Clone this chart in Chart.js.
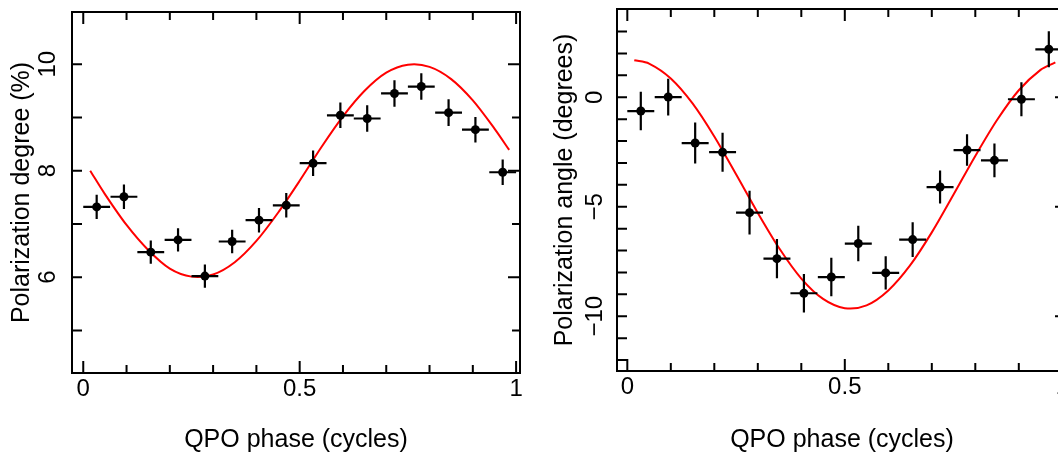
<!DOCTYPE html>
<html>
<head>
<meta charset="utf-8">
<script src="https://cdn.jsdelivr.net/npm/chart.js@4/dist/chart.umd.min.js"></script>
<style>
html, body { margin: 0; padding: 0; background: #fff; overflow: hidden; width: 1058px; height: 456px; }
canvas { position: absolute; top: 0; }
#degChart { left: 0; }
#angChart { left: 540px; }
</style>
</head>
<body>
<canvas id="degChart" width="540" height="456"></canvas>
<canvas id="angChart" width="560" height="456"></canvas>
<script>
// QPO phase bins (centres and half widths)
const phase = [0.031, 0.094, 0.156, 0.219, 0.281, 0.344, 0.406, 0.469,
               0.531, 0.594, 0.656, 0.719, 0.781, 0.844, 0.906, 0.969];
const phaseErr = [0.031, 0.031, 0.031, 0.031, 0.031, 0.031, 0.031, 0.031,
                  0.031, 0.031, 0.031, 0.031, 0.031, 0.031, 0.031, 0.031];

// left panel: polarization degree (%)
const degree = [7.32, 7.51, 6.47, 6.70, 6.02, 6.67, 7.07, 7.35,
                8.14, 9.04, 8.98, 9.45, 9.58, 9.09, 8.77, 7.97];
const degreeErr = [0.23, 0.23, 0.22, 0.22, 0.22, 0.22, 0.23, 0.23,
                   0.24, 0.24, 0.25, 0.25, 0.25, 0.25, 0.24, 0.24];

// right panel: polarization angle (degrees)
const angle = [-0.63, 0.01, -2.09, -2.51, -5.27, -7.37, -8.95, -8.21,
               -6.68, -8.02, -6.50, -4.10, -2.41, -2.88, -0.09, 2.19];
const angleErr = [0.88, 0.84, 0.94, 0.89, 1.00, 0.90, 0.88, 0.88,
                  0.81, 0.76, 0.79, 0.75, 0.72, 0.77, 0.78, 0.82];

// red model curves
const modelPhase = [0.016, 0.05, 0.1, 0.15, 0.2, 0.25, 0.3, 0.35, 0.4, 0.45, 0.5,
                    0.55, 0.6, 0.65, 0.7, 0.75, 0.8, 0.85, 0.9, 0.95, 0.984];
const degreeModel = [8.0, 7.56, 6.98, 6.51, 6.16, 6.01, 6.05, 6.28, 6.68, 7.21, 7.81,
                     8.44, 9.02, 9.50, 9.84, 9.99, 9.95, 9.72, 9.32, 8.79, 8.39];
const angleModel = [1.69, 1.54, 0.86, -0.28, -1.79, -3.52, -5.28, -6.92, -8.28, -9.21, -9.63,
                    -9.50, -8.82, -7.68, -6.17, -4.44, -2.68, -1.04, 0.32, 1.25, 1.59];

// ticks
const phaseTicks = [0, 0.1, 0.2, 0.3, 0.4, 0.5, 0.6, 0.7, 0.8, 0.9, 1];
const phaseLabels = ["0", "", "", "", "", "0.5", "", "", "", "", "1"];
const degreeTicks = [5, 6, 7, 8, 9, 10];
const degreeLabels = ["", "6", "", "8", "", "10"];
const angleTicks = [-12, -11, -10, -9, -8, -7, -6, -5, -4, -3, -2, -1, 0, 1, 2, 3];
const angleLabels = ["", "", "\u221210", "", "", "", "", "\u22125", "", "", "", "", "0", "", "", ""];

Chart.defaults.font.family = "'Liberation Sans', Arial, Helvetica, sans-serif";
Chart.defaults.color = "#000";

function errorBarPlugin(xs, ys, xErr, yErr) {
    return {
        id: "errorBars",
        afterDatasetDraw(chart, args) {
            if (args.index !== 1) return;   // right after the red curve
            const sx = chart.scales.x, sy = chart.scales.y, ctx = chart.ctx;
            ctx.save();
            ctx.strokeStyle = "#000";
            ctx.lineWidth = 2.2;
            ctx.beginPath();
            xs.forEach((x, i) => {
                const cx = sx.getPixelForValue(x);
                const cy = sy.getPixelForValue(ys[i]);
                ctx.moveTo(sx.getPixelForValue(x - xErr[i]), cy);
                ctx.lineTo(sx.getPixelForValue(x + xErr[i]), cy);
                ctx.moveTo(cx, sy.getPixelForValue(ys[i] - yErr[i]));
                ctx.lineTo(cx, sy.getPixelForValue(ys[i] + yErr[i]));
            });
            ctx.stroke();
            ctx.restore();
        }
    };
}

function framePlugin(xTicks, xLabels, yTicks, yLabels, yLabelX) {
    return {
        id: "frame",
        afterDraw(chart) {
            const a = chart.chartArea, ctx = chart.ctx;
            const sx = chart.scales.x, sy = chart.scales.y;
            ctx.save();
            ctx.strokeStyle = "#000";
            ctx.lineWidth = 2;
            ctx.strokeRect(a.left, a.top, a.right - a.left, a.bottom - a.top);

            ctx.beginPath();
            xTicks.forEach((v, i) => {
                const px = sx.getPixelForValue(v);
                const len = xLabels[i] ? 12 : 8;
                ctx.moveTo(px, a.bottom); ctx.lineTo(px, a.bottom - len);
                ctx.moveTo(px, a.top); ctx.lineTo(px, a.top + len);
            });
            yTicks.forEach((v, i) => {
                const py = sy.getPixelForValue(v);
                const len = yLabels[i] ? 12 : 8;
                ctx.moveTo(a.left, py); ctx.lineTo(a.left + 10, py);
                ctx.moveTo(a.right, py); ctx.lineTo(a.right - len, py);
            });
            ctx.stroke();

            ctx.fillStyle = "#000";
            ctx.font = "24px 'Liberation Sans', Arial, sans-serif";
            ctx.textAlign = "center";
            ctx.textBaseline = "middle";
            xTicks.forEach((v, i) => {
                if (!xLabels[i]) return;
                ctx.fillText(xLabels[i], sx.getPixelForValue(v), a.bottom + 16);
            });
            yTicks.forEach((v, i) => {
                if (!yLabels[i]) return;
                ctx.save();
                ctx.translate(yLabelX, sy.getPixelForValue(v));
                ctx.rotate(-Math.PI / 2);
                ctx.fillText(yLabels[i], 0, 0);
                ctx.restore();
            });
            ctx.restore();
        }
    };
}

function makePanel(id, opt) {
    const points = phase.map((p, i) => ({ x: p, y: opt.values[i] }));
    const curve = modelPhase.map((p, i) => ({ x: p, y: opt.model[i] }));

    return new Chart(document.getElementById(id), {
        type: "scatter",
        data: {
            datasets: [{
                data: points,
                pointRadius: 4.5,
                pointHoverRadius: 4.5,
                backgroundColor: "#000",
                borderColor: "#000",
                borderWidth: 0
            }, {
                data: curve,
                showLine: true,
                pointRadius: 0,
                borderColor: "#ff0000",
                borderWidth: 2,
                tension: 0.3
            }]
        },
        options: {
            responsive: false,
            animation: false,
            devicePixelRatio: 1,
            layout: { padding: opt.padding },
            plugins: { legend: { display: false }, tooltip: { enabled: false } },
            scales: {
                x: {
                    type: "linear",
                    min: opt.xMin,
                    max: opt.xMax,
                    grid: { display: false },
                    border: { display: false },
                    ticks: { display: false },
                    title: {
                        display: true,
                        text: "QPO phase (cycles)",
                        font: { size: 25 },
                        padding: { top: 0, bottom: 1 }
                    },
                    afterFit: s => { s.height = opt.xHeight; }
                },
                y: {
                    type: "linear",
                    min: opt.yMin,
                    max: opt.yMax,
                    grid: { display: false },
                    border: { display: false },
                    ticks: { display: false },
                    title: {
                        display: true,
                        text: opt.yTitle,
                        font: { size: 25 },
                        padding: { top: opt.yTitlePad, bottom: 0 }
                    },
                    afterFit: s => { s.width = opt.yWidth; }
                }
            }
        },
        plugins: [
            errorBarPlugin(phase, opt.values, phaseErr, opt.errors),
            framePlugin(phaseTicks, phaseLabels, opt.yTicks, opt.yLabels, opt.yLabelX)
        ]
    });
}

makePanel("degChart", {
    values: degree, errors: degreeErr, model: degreeModel,
    yTicks: degreeTicks, yLabels: degreeLabels,
    yTitle: "Polarization degree (%)",
    xMin: -0.026, xMax: 1.009, yMin: 4.2, yMax: 10.98,
    padding: { left: 0, top: 12, right: 20, bottom: 0 },
    xHeight: 83, yWidth: 72, yTitlePad: 7, yLabelX: 48
});

makePanel("angChart", {
    values: angle, errors: angleErr, model: angleModel,
    yTicks: angleTicks, yLabels: angleLabels,
    yTitle: "Polarization angle (degrees)",
    xMin: -0.0237, xMax: 1.0108, yMin: -12.5, yMax: 4.03,
    padding: { left: 0, top: 9, right: 33, bottom: 0 },
    xHeight: 85, yWidth: 77, yTitlePad: 10, yLabelX: 55
});
</script>
</body>
</html>
